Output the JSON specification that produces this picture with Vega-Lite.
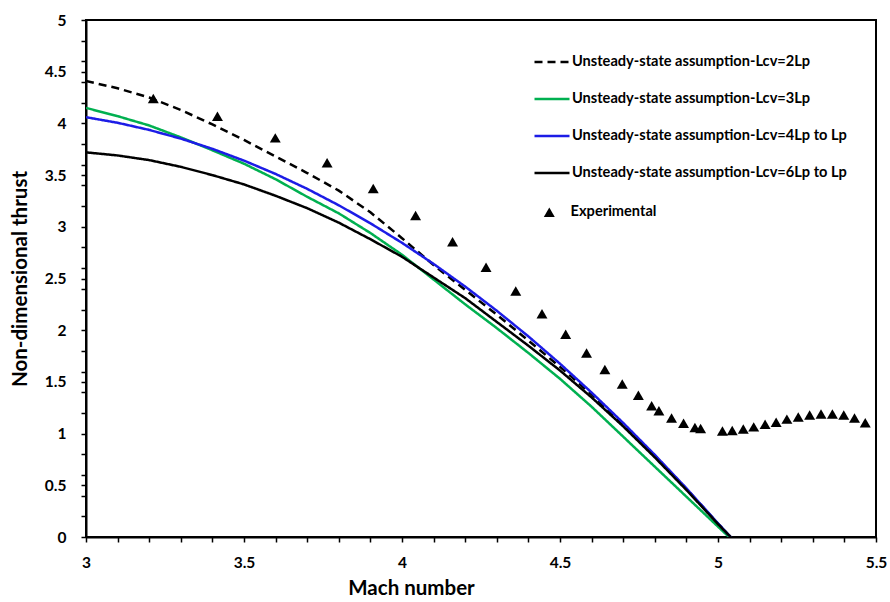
{
  "$schema": "https://vega.github.io/schema/vega-lite/v6.json",
  "width": 790,
  "height": 517,
  "autosize": {"type": "none"},
  "padding": {"left": 86, "top": 20, "right": 14, "bottom": 65},
  "background": "white",
  "config": {
    "view": {"stroke": "black", "strokeWidth": 2},
    "font": "Lato",
    "axis": {
      "grid": false,
      "domainColor": "black",
      "domainWidth": 2,
      "tickColor": "black",
      "tickWidth": 1.5,
      "tickSize": 5,
      "labelFont": "Lato",
      "labelFontSize": 15.5,
      "labelFontWeight": "bold",
      "labelColor": "black",
      "labelOverlap": false,
      "labelFlush": false,
      "titleFont": "Lato",
      "titleFontSize": 20.5,
      "titleFontWeight": "bold",
      "titleColor": "black"
    },
    "legend": {
      "labelFont": "Lato",
      "labelFontSize": 14.6,
      "labelFontWeight": "bold",
      "labelColor": "black",
      "labelLimit": 400,
      "padding": 0
    }
  },
  "datasets": {
    "lines": [
      {"series": "Unsteady-state assumption-Lcv=2Lp", "M": 3.0, "T": 4.41},
      {"series": "Unsteady-state assumption-Lcv=2Lp", "M": 3.1, "T": 4.34},
      {"series": "Unsteady-state assumption-Lcv=2Lp", "M": 3.2, "T": 4.25},
      {"series": "Unsteady-state assumption-Lcv=2Lp", "M": 3.3, "T": 4.13},
      {"series": "Unsteady-state assumption-Lcv=2Lp", "M": 3.4, "T": 3.99},
      {"series": "Unsteady-state assumption-Lcv=2Lp", "M": 3.5, "T": 3.84},
      {"series": "Unsteady-state assumption-Lcv=2Lp", "M": 3.6, "T": 3.68},
      {"series": "Unsteady-state assumption-Lcv=2Lp", "M": 3.7, "T": 3.52},
      {"series": "Unsteady-state assumption-Lcv=2Lp", "M": 3.8, "T": 3.35},
      {"series": "Unsteady-state assumption-Lcv=2Lp", "M": 3.9, "T": 3.14},
      {"series": "Unsteady-state assumption-Lcv=2Lp", "M": 4.0, "T": 2.89},
      {"series": "Unsteady-state assumption-Lcv=2Lp", "M": 4.1, "T": 2.63},
      {"series": "Unsteady-state assumption-Lcv=2Lp", "M": 4.2, "T": 2.39},
      {"series": "Unsteady-state assumption-Lcv=2Lp", "M": 4.3, "T": 2.15},
      {"series": "Unsteady-state assumption-Lcv=2Lp", "M": 4.4, "T": 1.9},
      {"series": "Unsteady-state assumption-Lcv=2Lp", "M": 4.5, "T": 1.645},
      {"series": "Unsteady-state assumption-Lcv=2Lp", "M": 4.6, "T": 1.38},
      {"series": "Unsteady-state assumption-Lcv=2Lp", "M": 4.7, "T": 1.09},
      {"series": "Unsteady-state assumption-Lcv=2Lp", "M": 4.8, "T": 0.785},
      {"series": "Unsteady-state assumption-Lcv=2Lp", "M": 4.9, "T": 0.465},
      {"series": "Unsteady-state assumption-Lcv=2Lp", "M": 5.0, "T": 0.13},
      {"series": "Unsteady-state assumption-Lcv=2Lp", "M": 5.04, "T": 0},
      {"series": "Unsteady-state assumption-Lcv=3Lp", "M": 3.0, "T": 4.15},
      {"series": "Unsteady-state assumption-Lcv=3Lp", "M": 3.1, "T": 4.07},
      {"series": "Unsteady-state assumption-Lcv=3Lp", "M": 3.2, "T": 3.98},
      {"series": "Unsteady-state assumption-Lcv=3Lp", "M": 3.3, "T": 3.865},
      {"series": "Unsteady-state assumption-Lcv=3Lp", "M": 3.4, "T": 3.74},
      {"series": "Unsteady-state assumption-Lcv=3Lp", "M": 3.5, "T": 3.61},
      {"series": "Unsteady-state assumption-Lcv=3Lp", "M": 3.6, "T": 3.46},
      {"series": "Unsteady-state assumption-Lcv=3Lp", "M": 3.7, "T": 3.29},
      {"series": "Unsteady-state assumption-Lcv=3Lp", "M": 3.8, "T": 3.13},
      {"series": "Unsteady-state assumption-Lcv=3Lp", "M": 3.9, "T": 2.94},
      {"series": "Unsteady-state assumption-Lcv=3Lp", "M": 4.0, "T": 2.73},
      {"series": "Unsteady-state assumption-Lcv=3Lp", "M": 4.1, "T": 2.49},
      {"series": "Unsteady-state assumption-Lcv=3Lp", "M": 4.2, "T": 2.25},
      {"series": "Unsteady-state assumption-Lcv=3Lp", "M": 4.3, "T": 2.02},
      {"series": "Unsteady-state assumption-Lcv=3Lp", "M": 4.4, "T": 1.78},
      {"series": "Unsteady-state assumption-Lcv=3Lp", "M": 4.5, "T": 1.53},
      {"series": "Unsteady-state assumption-Lcv=3Lp", "M": 4.6, "T": 1.26},
      {"series": "Unsteady-state assumption-Lcv=3Lp", "M": 4.7, "T": 0.97},
      {"series": "Unsteady-state assumption-Lcv=3Lp", "M": 4.8, "T": 0.68},
      {"series": "Unsteady-state assumption-Lcv=3Lp", "M": 4.9, "T": 0.39},
      {"series": "Unsteady-state assumption-Lcv=3Lp", "M": 5.0, "T": 0.1},
      {"series": "Unsteady-state assumption-Lcv=3Lp", "M": 5.035, "T": 0},
      {"series": "Unsteady-state assumption-Lcv=4Lp to Lp", "M": 3.0, "T": 4.06},
      {"series": "Unsteady-state assumption-Lcv=4Lp to Lp", "M": 3.1, "T": 4.006},
      {"series": "Unsteady-state assumption-Lcv=4Lp to Lp", "M": 3.2, "T": 3.937},
      {"series": "Unsteady-state assumption-Lcv=4Lp to Lp", "M": 3.3, "T": 3.853},
      {"series": "Unsteady-state assumption-Lcv=4Lp to Lp", "M": 3.4, "T": 3.754},
      {"series": "Unsteady-state assumption-Lcv=4Lp to Lp", "M": 3.5, "T": 3.64},
      {"series": "Unsteady-state assumption-Lcv=4Lp to Lp", "M": 3.6, "T": 3.511},
      {"series": "Unsteady-state assumption-Lcv=4Lp to Lp", "M": 3.7, "T": 3.367},
      {"series": "Unsteady-state assumption-Lcv=4Lp to Lp", "M": 3.8, "T": 3.208},
      {"series": "Unsteady-state assumption-Lcv=4Lp to Lp", "M": 3.9, "T": 3.034},
      {"series": "Unsteady-state assumption-Lcv=4Lp to Lp", "M": 4.0, "T": 2.845},
      {"series": "Unsteady-state assumption-Lcv=4Lp to Lp", "M": 4.1, "T": 2.641},
      {"series": "Unsteady-state assumption-Lcv=4Lp to Lp", "M": 4.2, "T": 2.422},
      {"series": "Unsteady-state assumption-Lcv=4Lp to Lp", "M": 4.3, "T": 2.188},
      {"series": "Unsteady-state assumption-Lcv=4Lp to Lp", "M": 4.4, "T": 1.94},
      {"series": "Unsteady-state assumption-Lcv=4Lp to Lp", "M": 4.5, "T": 1.676},
      {"series": "Unsteady-state assumption-Lcv=4Lp to Lp", "M": 4.6, "T": 1.397},
      {"series": "Unsteady-state assumption-Lcv=4Lp to Lp", "M": 4.7, "T": 1.103},
      {"series": "Unsteady-state assumption-Lcv=4Lp to Lp", "M": 4.8, "T": 0.794},
      {"series": "Unsteady-state assumption-Lcv=4Lp to Lp", "M": 4.9, "T": 0.471},
      {"series": "Unsteady-state assumption-Lcv=4Lp to Lp", "M": 5.0, "T": 0.132},
      {"series": "Unsteady-state assumption-Lcv=4Lp to Lp", "M": 5.04, "T": 0},
      {"series": "Unsteady-state assumption-Lcv=6Lp to Lp", "M": 3.0, "T": 3.72},
      {"series": "Unsteady-state assumption-Lcv=6Lp to Lp", "M": 3.1, "T": 3.69},
      {"series": "Unsteady-state assumption-Lcv=6Lp to Lp", "M": 3.2, "T": 3.645},
      {"series": "Unsteady-state assumption-Lcv=6Lp to Lp", "M": 3.3, "T": 3.58},
      {"series": "Unsteady-state assumption-Lcv=6Lp to Lp", "M": 3.4, "T": 3.5},
      {"series": "Unsteady-state assumption-Lcv=6Lp to Lp", "M": 3.5, "T": 3.41},
      {"series": "Unsteady-state assumption-Lcv=6Lp to Lp", "M": 3.6, "T": 3.3},
      {"series": "Unsteady-state assumption-Lcv=6Lp to Lp", "M": 3.7, "T": 3.18},
      {"series": "Unsteady-state assumption-Lcv=6Lp to Lp", "M": 3.8, "T": 3.04},
      {"series": "Unsteady-state assumption-Lcv=6Lp to Lp", "M": 3.9, "T": 2.88},
      {"series": "Unsteady-state assumption-Lcv=6Lp to Lp", "M": 4.0, "T": 2.71},
      {"series": "Unsteady-state assumption-Lcv=6Lp to Lp", "M": 4.1, "T": 2.51},
      {"series": "Unsteady-state assumption-Lcv=6Lp to Lp", "M": 4.2, "T": 2.31},
      {"series": "Unsteady-state assumption-Lcv=6Lp to Lp", "M": 4.3, "T": 2.08},
      {"series": "Unsteady-state assumption-Lcv=6Lp to Lp", "M": 4.4, "T": 1.85},
      {"series": "Unsteady-state assumption-Lcv=6Lp to Lp", "M": 4.5, "T": 1.61},
      {"series": "Unsteady-state assumption-Lcv=6Lp to Lp", "M": 4.6, "T": 1.35},
      {"series": "Unsteady-state assumption-Lcv=6Lp to Lp", "M": 4.7, "T": 1.07},
      {"series": "Unsteady-state assumption-Lcv=6Lp to Lp", "M": 4.8, "T": 0.77},
      {"series": "Unsteady-state assumption-Lcv=6Lp to Lp", "M": 4.9, "T": 0.455},
      {"series": "Unsteady-state assumption-Lcv=6Lp to Lp", "M": 5.0, "T": 0.125},
      {"series": "Unsteady-state assumption-Lcv=6Lp to Lp", "M": 5.04, "T": 0}
    ],
    "exp": [
      {"series": "Experimental", "M": 3.213, "T": 4.24},
      {"series": "Experimental", "M": 3.416, "T": 4.07},
      {"series": "Experimental", "M": 3.599, "T": 3.86},
      {"series": "Experimental", "M": 3.763, "T": 3.62},
      {"series": "Experimental", "M": 3.909, "T": 3.37},
      {"series": "Experimental", "M": 4.043, "T": 3.11},
      {"series": "Experimental", "M": 4.16, "T": 2.856},
      {"series": "Experimental", "M": 4.266, "T": 2.608},
      {"series": "Experimental", "M": 4.36, "T": 2.38},
      {"series": "Experimental", "M": 4.443, "T": 2.16},
      {"series": "Experimental", "M": 4.518, "T": 1.96},
      {"series": "Experimental", "M": 4.584, "T": 1.78},
      {"series": "Experimental", "M": 4.642, "T": 1.62},
      {"series": "Experimental", "M": 4.697, "T": 1.48},
      {"series": "Experimental", "M": 4.748, "T": 1.37},
      {"series": "Experimental", "M": 4.79, "T": 1.27},
      {"series": "Experimental", "M": 4.813, "T": 1.22},
      {"series": "Experimental", "M": 4.853, "T": 1.15},
      {"series": "Experimental", "M": 4.891, "T": 1.1},
      {"series": "Experimental", "M": 4.927, "T": 1.06},
      {"series": "Experimental", "M": 4.945, "T": 1.05},
      {"series": "Experimental", "M": 5.014, "T": 1.025},
      {"series": "Experimental", "M": 5.045, "T": 1.03},
      {"series": "Experimental", "M": 5.08, "T": 1.045},
      {"series": "Experimental", "M": 5.113, "T": 1.065},
      {"series": "Experimental", "M": 5.149, "T": 1.09},
      {"series": "Experimental", "M": 5.184, "T": 1.11},
      {"series": "Experimental", "M": 5.218, "T": 1.14},
      {"series": "Experimental", "M": 5.254, "T": 1.16},
      {"series": "Experimental", "M": 5.29, "T": 1.18},
      {"series": "Experimental", "M": 5.326, "T": 1.19},
      {"series": "Experimental", "M": 5.362, "T": 1.19},
      {"series": "Experimental", "M": 5.398, "T": 1.18},
      {"series": "Experimental", "M": 5.432, "T": 1.15},
      {"series": "Experimental", "M": 5.466, "T": 1.105}
    ]
  },
  "layer": [
    {
      "data": {"name": "lines"},
      "mark": {"type": "line", "strokeWidth": 2.5, "clip": true},
      "encoding": {
        "x": {
          "field": "M",
          "type": "quantitative",
          "scale": {"domain": [3, 5.5], "nice": false, "zero": false},
          "axis": {
            "orient": "bottom",
            "title": "Mach number",
            "values": [3, 3.1, 3.2, 3.3, 3.4, 3.5, 3.6, 3.7, 3.8, 3.9, 4, 4.1, 4.2, 4.3, 4.4, 4.5, 4.6, 4.7, 4.8, 4.9, 5, 5.1, 5.2, 5.3, 5.4, 5.5],
            "tickCount": 200,
            "labelExpr": "abs(datum.value * 2 - round(datum.value * 2)) < 0.001 ? format(datum.value, '~g') : ''",
            "labelOverlap": false,
            "labelPadding": 13,
            "titleX": 325,
            "titleY": 51,
            "titleAlign": "center",
            "titleBaseline": "middle"
          }
        },
        "y": {
          "field": "T",
          "type": "quantitative",
          "scale": {"domain": [0, 5], "nice": false},
          "axis": {
            "orient": "left",
            "title": "Non-dimensional thrust",
            "values": [0, 0.2, 0.4, 0.5, 0.6, 0.8, 1, 1.2, 1.4, 1.5, 1.6, 1.8, 2, 2.2, 2.4, 2.5, 2.6, 2.8, 3, 3.2, 3.4, 3.5, 3.6, 3.8, 4, 4.2, 4.4, 4.5, 4.6, 4.8, 5],
            "tickCount": 200,
            "labelExpr": "abs(datum.value * 2 - round(datum.value * 2)) < 0.001 ? format(datum.value, '~g') : ''",
            "labelOverlap": false,
            "labelPadding": 15,
            "titlePadding": 14
          }
        },
        "color": {
          "field": "series",
          "type": "nominal",
          "scale": {
            "domain": ["Unsteady-state assumption-Lcv=2Lp", "Unsteady-state assumption-Lcv=3Lp", "Unsteady-state assumption-Lcv=4Lp to Lp", "Unsteady-state assumption-Lcv=6Lp to Lp"],
            "range": ["#000000", "#00B050", "#1C1CE6", "#000000"]
          },
          "legend": {
            "title": null,
            "orient": "none",
            "legendX": 447,
            "legendY": 23,
            "symbolType": "stroke",
            "symbolSize": 1225,
            "symbolStrokeWidth": 2.5,
            "labelOffset": 1,
            "rowPadding": 11
          }
        },
        "strokeDash": {
          "field": "series",
          "type": "nominal",
          "scale": {
            "domain": ["Unsteady-state assumption-Lcv=2Lp", "Unsteady-state assumption-Lcv=3Lp", "Unsteady-state assumption-Lcv=4Lp to Lp", "Unsteady-state assumption-Lcv=6Lp to Lp"],
            "range": [[8, 5], [1, 0], [1, 0], [1, 0]]
          },
          "legend": {
            "title": null,
            "orient": "none",
            "legendX": 447,
            "legendY": 23,
            "symbolType": "stroke",
            "symbolSize": 1225,
            "symbolStrokeWidth": 2.5,
            "labelOffset": 1,
            "rowPadding": 11
          }
        }
      }
    },
    {
      "data": {"name": "exp"},
      "mark": {"type": "point", "filled": true, "color": "black", "size": 120, "opacity": 1},
      "encoding": {
        "x": {"field": "M", "type": "quantitative"},
        "y": {"field": "T", "type": "quantitative"},
        "shape": {
          "field": "series",
          "type": "nominal",
          "scale": {"domain": ["Experimental"], "range": ["triangle-up"]},
          "legend": {
            "title": null,
            "orient": "none",
            "legendX": 456,
            "legendY": 185,
            "labelOffset": 14,
            "symbolFillColor": "black",
            "symbolStrokeColor": "black",
            "symbolSize": 120
          }
        }
      }
    }
  ]
}
